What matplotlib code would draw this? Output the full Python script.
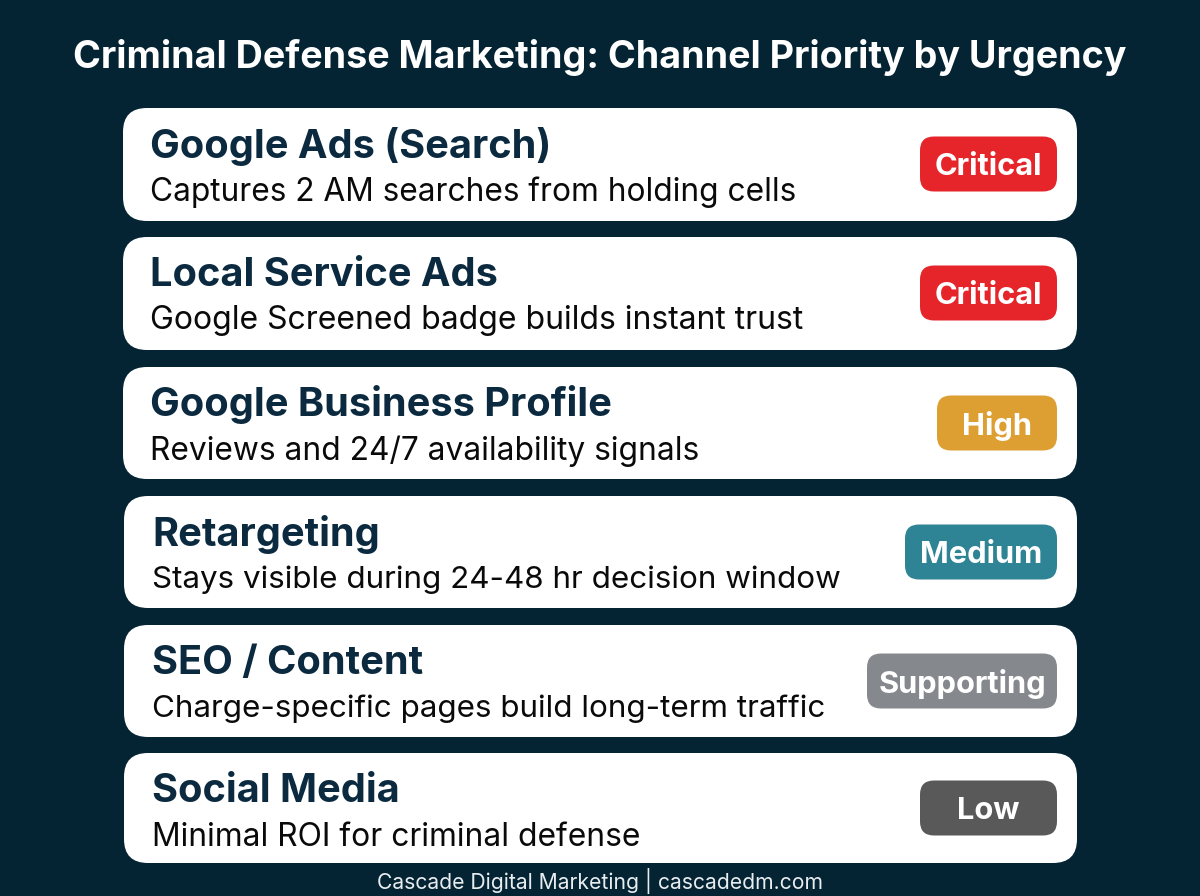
import matplotlib
matplotlib.use("Agg")
import matplotlib.pyplot as plt
from matplotlib.patches import FancyBboxPatch

# contenido de las tarjetas
canales = ["Google Ads (Search)", "Local Service Ads", "Google Business Profile",
           "Retargeting", "SEO / Content", "Social Media"]
descripciones = ["Captures 2 AM searches from holding cells",
                 "Google Screened badge builds instant trust",
                 "Reviews and 24/7 availability signals",
                 "Stays visible during 24-48 hr decision window",
                 "Charge-specific pages build long-term traffic",
                 "Minimal ROI for criminal defense"]
prioridades = ["Critical", "Critical", "High", "Medium", "Supporting", "Low"]

colores = {"Critical": "#E5252A", "High": "#DD9F32", "Medium": "#2E8494",
           "Supporting": "#85888C", "Low": "#595959"}

# geometria en pixeles
arriba = [108, 237, 367, 496, 625, 753]
abajo = [221, 350, 479, 608, 737, 863]
izq_card = [123, 123, 123, 124, 124, 124]
x_texto = [150, 150, 150, 152, 152, 152]
ancho_badge = [137, 137, 120, 152, 190, 137]
# cada descripcion tiene un ancho algo distinto en la referencia
tam_desc = [22.8, 23.0, 22.85, 22.6, 22.6, 22.9]

plt.rcParams['font.family'] = ['Inter', 'DejaVu Sans']

fig = plt.figure(figsize=(12, 8.96), dpi=100, facecolor="#052433")
ax = fig.add_axes([0, 0, 1, 1])
ax.set_xlim(0, 1200)
ax.set_ylim(896, 0)
ax.axis("off")

ax.text(600, 57, "Criminal Defense Marketing: Channel Priority by Urgency",
        color="white", fontsize=27.1, fontweight="bold", ha="center", va="center")

for i in range(len(canales)):
    r = 24
    card = FancyBboxPatch((izq_card[i] + r, arriba[i] + r), 1077 - izq_card[i] - 2 * r,
                          abajo[i] - arriba[i] - 2 * r,
                          boxstyle=f"round,pad={r},rounding_size={r}",
                          fc="white", ec="none")
    ax.add_patch(card)

    ax.text(x_texto[i], arriba[i] + 38, canales[i], color="#0B2A3F", fontsize=28.6,
            fontweight="bold", va="center", ha="left")
    ax.text(x_texto[i], arriba[i] + 84, descripciones[i], color="#0A0A0A", fontsize=tam_desc[i],
            va="center", ha="left")

    # etiqueta de prioridad
    r2 = 14
    centro = arriba[i] + 56 if i < 5 else arriba[i] + 55
    x0 = 1057 - ancho_badge[i]
    badge = FancyBboxPatch((x0 + r2, centro - 27.5 + r2), ancho_badge[i] - 2 * r2, 55 - 2 * r2,
                           boxstyle=f"round,pad={r2},rounding_size={r2}",
                           fc=colores[prioridades[i]], ec="none")
    ax.add_patch(badge)
    ax.text(x0 + ancho_badge[i] / 2, centro + 3, prioridades[i], color="white", fontsize=22.2,
            fontweight="bold", ha="center", va="center")

ax.text(600, 881, "Cascade Digital Marketing | cascadedm.com", color="#E8EDF0",
        fontsize=15.2, ha="center", va="center")

fig.savefig("out.png", dpi=100, facecolor=fig.get_facecolor())
